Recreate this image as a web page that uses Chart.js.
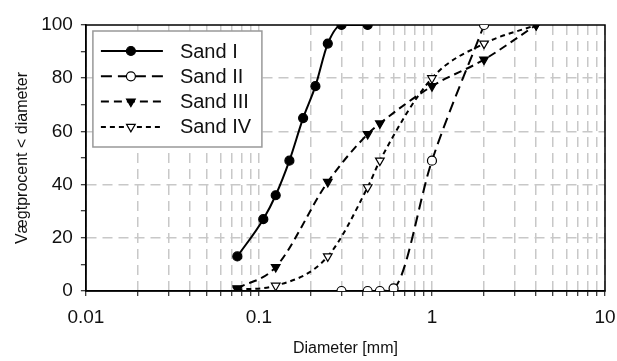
<!DOCTYPE html>
<html>
<head>
<meta charset="utf-8">
<script src="https://cdn.jsdelivr.net/npm/chart.js@4"></script>
<style>
body { margin: 0; background: #fff; }
#wrap { width: 617px; height: 361px; }
</style>
</head>
<body>
<div id="wrap"><canvas id="myChart"></canvas></div>
<script>
// Series names
var seriesNames = ["Sand I", "Sand II", "Sand III", "Sand IV"];

// Diameter [mm] and passing % for each sand
var sand1X = [0.075, 0.106, 0.125, 0.15, 0.18, 0.212, 0.25, 0.3, 0.425];
var sand1Y = [13, 27, 36, 49, 65, 77, 93, 100, 100];

var sand2X = [0.3, 0.425, 0.5, 0.6, 1, 2];
var sand2Y = [0, 0, 0, 1, 49, 100];

var sand3X = [0.075, 0.125, 0.25, 0.425, 0.5, 1, 2, 4];
var sand3Y = [1, 9, 41, 59, 63, 77, 87, 100];

var sand4X = [0.075, 0.125, 0.25, 0.425, 0.5, 1, 2, 4];
var sand4Y = [0.5, 2, 13, 39, 49, 80, 93, 100];

// Tick labels
var xTickLabels = [0.01, 0.1, 1, 10];
var yTickLabels = [0, 20, 40, 60, 80, 100];

function toPoints(xs, ys) {
    return xs.map(function (x, i) { return { x: x, y: ys[i] }; });
}

var FONT = "'Liberation Sans', Arial, sans-serif";
var GRID_GRAY = "#c8c8c8";

// Box around the plot area
var framePlugin = {
    id: "frame",
    beforeDatasetsDraw: function (chart) {
        var a = chart.chartArea, c = chart.ctx;
        c.save();
        c.strokeStyle = "#000";
        c.lineWidth = 1.5;
        c.strokeRect(a.left, a.top, a.right - a.left, a.bottom - a.top);
        c.restore();
    }
};

// Legend drawn inside the plot (top-left)
var insideLegend = {
    id: "insideLegend",
    afterDatasetsDraw: function (chart) {
        var a = chart.chartArea, c = chart.ctx;
        var x0 = a.left + 7, y0 = a.top + 6, w = 169, h = 116;
        c.save();
        c.fillStyle = "#fff";
        c.fillRect(x0, y0, w, h);
        c.strokeStyle = "#999";
        c.lineWidth = 1.5;
        c.strokeRect(x0, y0, w, h);
        chart.data.datasets.forEach(function (ds, i) {
            var y = y0 + 20 + i * 25.3;
            c.strokeStyle = "#000";
            c.lineWidth = ds.borderWidth;
            c.setLineDash(ds.borderDash || []);
            c.beginPath();
            c.moveTo(x0 + 8, y);
            c.lineTo(x0 + 70, y);
            c.stroke();
            c.setLineDash([]);
            c.fillStyle = ds.pointBackgroundColor;
            c.strokeStyle = "#000";
            c.lineWidth = 1.2;
            Chart.helpers.drawPoint(c, {
                pointStyle: ds.pointStyle,
                rotation: ds.pointRotation || 0,
                radius: ds.pointRadius,
                borderWidth: 1.2
            }, x0 + 38, y);
            c.fillStyle = "#111";
            c.font = "20px " + FONT;
            c.textBaseline = "middle";
            c.fillText(ds.label, x0 + 87, y + 1);
        });
        c.restore();
    }
};

function makeSet(label, xs, ys, dash, style, fill, rot, radius) {
    return {
        label: label,
        data: toPoints(xs, ys),
        borderColor: "#000",
        borderWidth: 2,
        borderDash: dash,
        pointStyle: style,
        pointRotation: rot,
        pointRadius: radius,
        pointBackgroundColor: fill,
        pointBorderColor: "#000",
        pointBorderWidth: 1.2,
        cubicInterpolationMode: "monotone",
        fill: false
    };
}

var ctx = document.getElementById("myChart").getContext("2d");
var myChart = new Chart(ctx, {
    type: "line",
    data: {
        datasets: [
            makeSet(seriesNames[0], sand1X, sand1Y, [], "circle", "#000", 0, 4.5),
            makeSet(seriesNames[1], sand2X, sand2Y, [11, 6], "circle", "#fff", 0, 4.5),
            makeSet(seriesNames[2], sand3X, sand3Y, [8, 5], "triangle", "#000", 180, 5),
            makeSet(seriesNames[3], sand4X, sand4Y, [5, 4], "triangle", "#fff", 180, 5)
        ]
    },
    options: {
        responsive: true,
        maintainAspectRatio: false,
        animation: false,
        layout: { padding: { top: 25, right: 0, left: 11, bottom: 3 } },
        plugins: {
            legend: { display: false },
            tooltip: { enabled: false }
        },
        scales: {
            x: {
                type: "logarithmic",
                min: 0.01,
                max: 10,
                afterBuildTicks: function (scale) {
                    var vals = [];
                    xTickLabels.forEach(function (d, k) {
                        if (k === xTickLabels.length - 1) { vals.push(d); return; }
                        for (var m = 1; m < 10; m++) vals.push(+(d * m).toPrecision(3));
                    });
                    scale.ticks = vals.map(function (v) { return { value: v }; });
                },
                afterFit: function (scale) {
                    // the "10" label is allowed to run to the edge
                    scale.paddingRight = 12;
                },
                ticks: {
                    autoSkip: false,
                    maxRotation: 0,
                    color: "#111",
                    font: { family: FONT, size: 19 },
                    padding: 10,
                    callback: function (v) {
                        return xTickLabels.indexOf(v) >= 0 ? String(v) : "";
                    }
                },
                grid: {
                    color: GRID_GRAY,
                    lineWidth: 1.5,
                    tickColor: "#000",
                    tickLength: 5,
                    tickWidth: 1
                },
                border: { display: true, color: "#000", width: 1.5, dash: [10, 6] },
                title: {
                    display: true,
                    text: "Diameter [mm]",
                    color: "#111",
                    font: { family: FONT, size: 16 },
                    padding: { top: 0, bottom: 0 }
                }
            },
            y: {
                min: 0,
                max: 100,
                ticks: {
                    stepSize: 10,
                    color: "#111",
                    font: { family: FONT, size: 19 },
                    padding: 8,
                    callback: function (v) {
                        return yTickLabels.indexOf(v) >= 0 ? String(v) : "";
                    }
                },
                grid: {
                    color: function (c) {
                        var v = c.tick && c.tick.value;
                        return (v % 20 === 0 && v > 0 && v < 100) ? GRID_GRAY : "rgba(0,0,0,0)";
                    },
                    lineWidth: 1.5,
                    tickColor: "#000",
                    tickLength: 5,
                    tickWidth: 1
                },
                border: { display: true, color: "#000", width: 1.5, dash: [10, 6] },
                title: {
                    display: true,
                    text: "Vægtprocent < diameter",
                    color: "#111",
                    font: { family: FONT, size: 16 },
                    padding: { top: 2, bottom: 1 }
                }
            }
        }
    },
    plugins: [framePlugin, insideLegend]
});
</script>
</body>
</html>
